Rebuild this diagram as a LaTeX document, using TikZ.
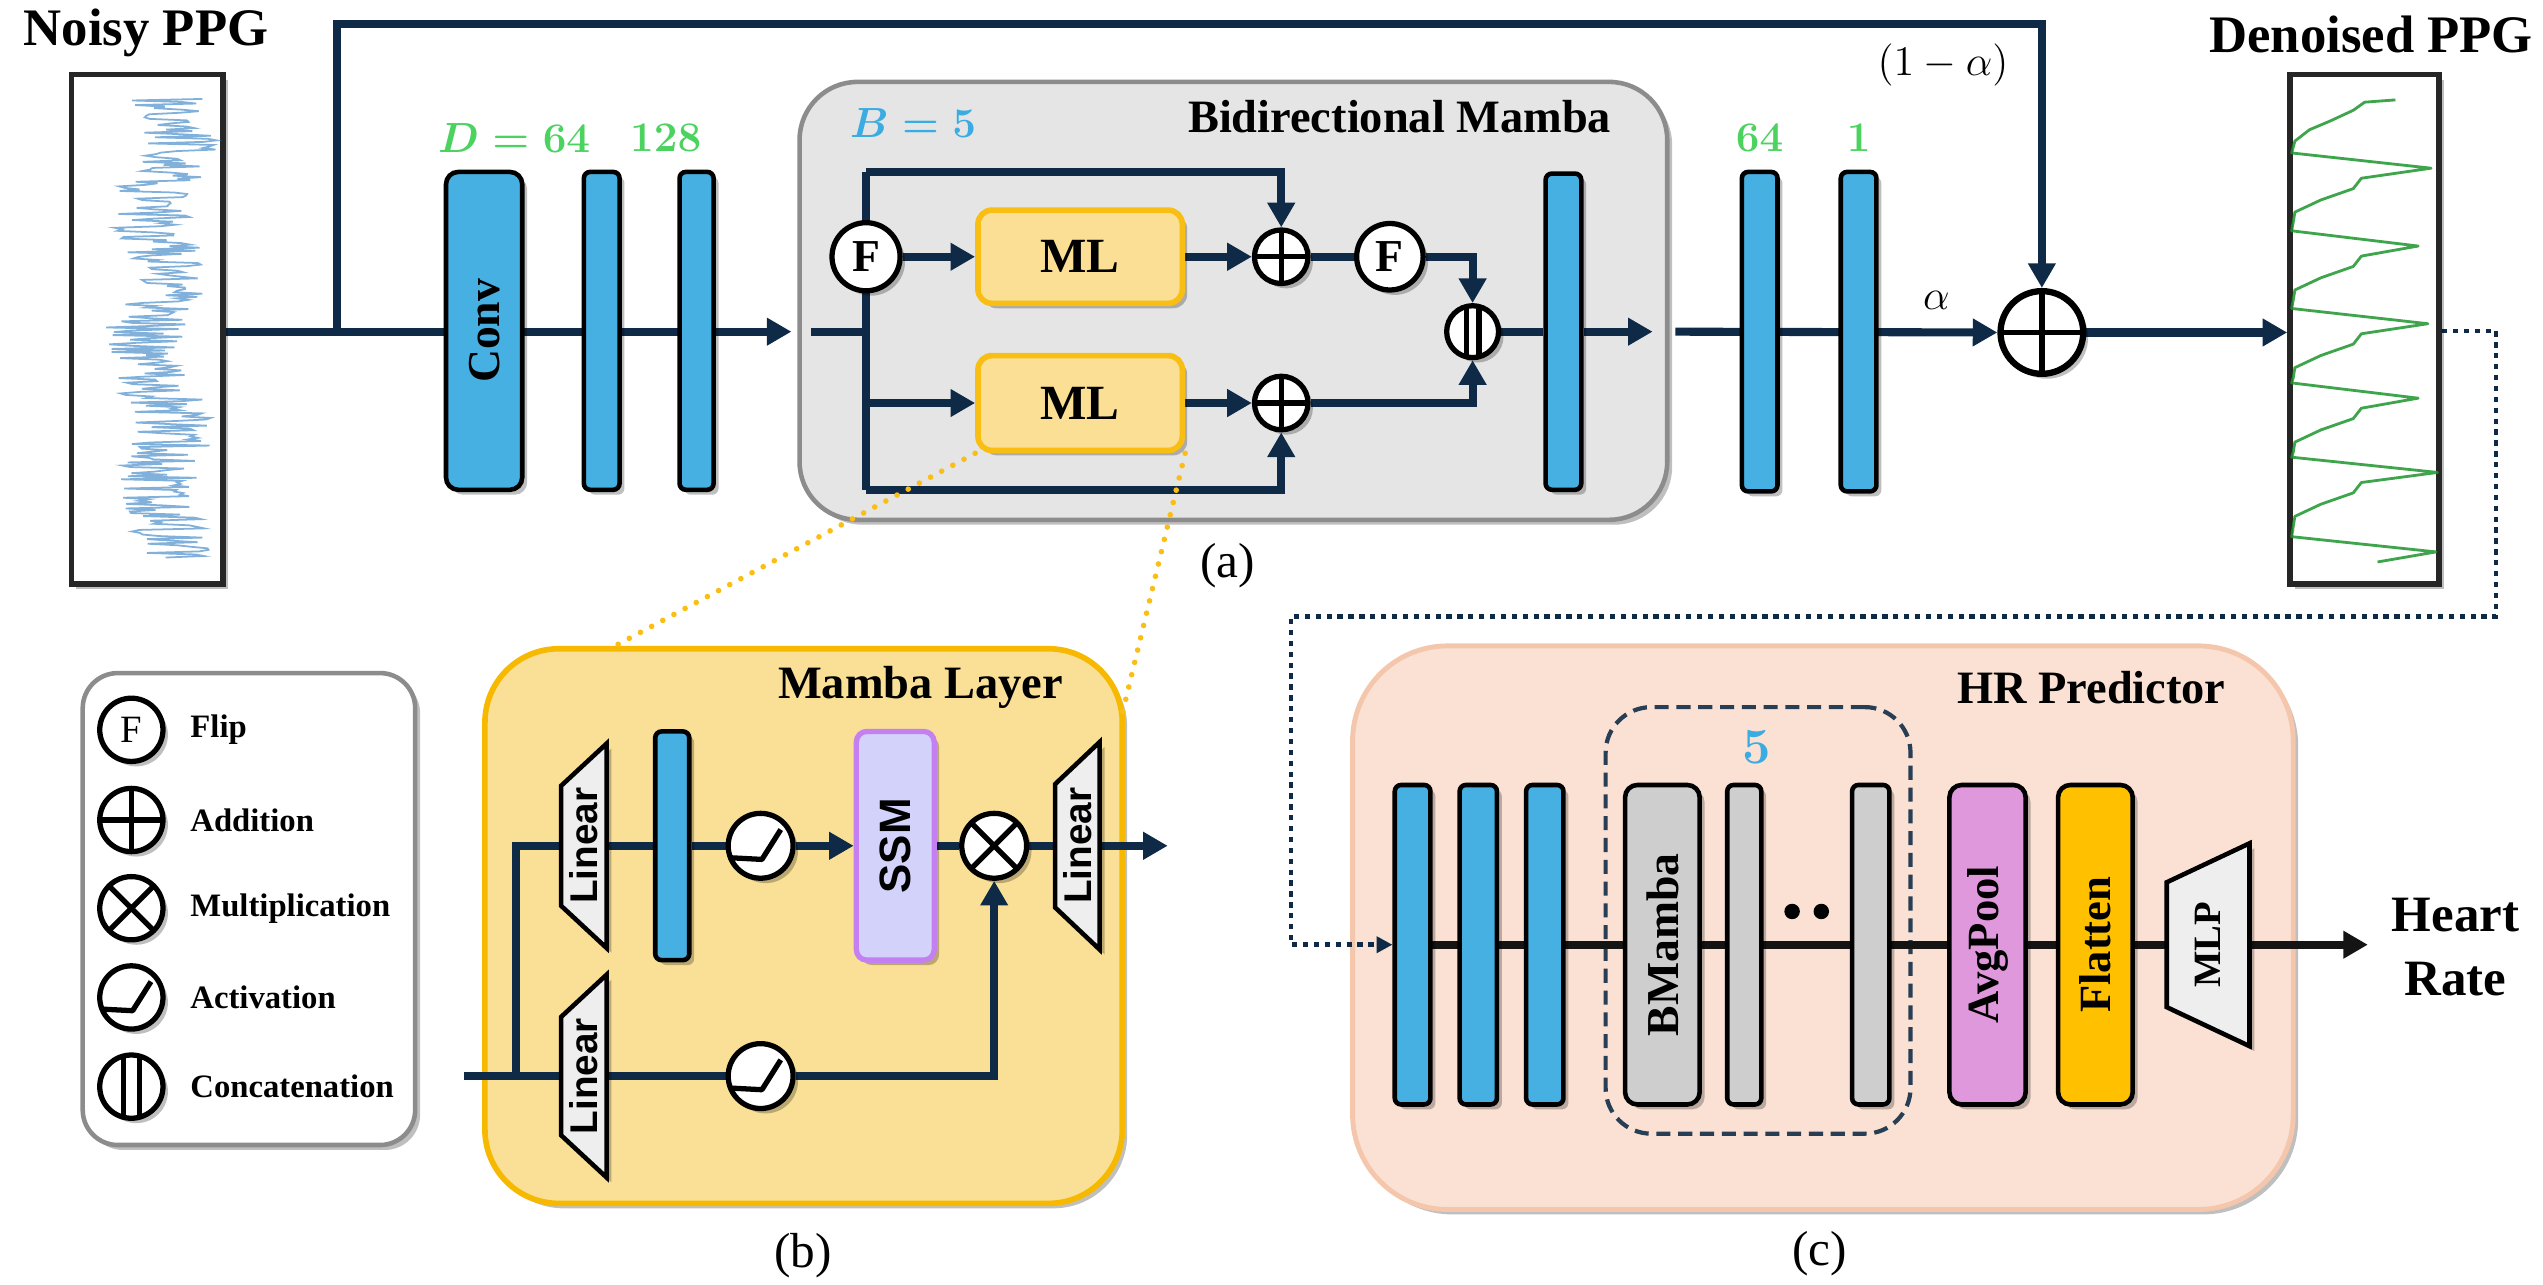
\documentclass[tikz,border=0pt]{standalone}
\usepackage{fontspec}
\setmainfont{Liberation Serif}
\setsansfont{Liberation Sans}
\usetikzlibrary{arrows.meta,calc,shadows}
\pgfdeclarelayer{back}
\pgfdeclarelayer{mid}
\pgfdeclarelayer{front}
\pgfsetlayers{back,mid,main,front}

\definecolor{navy}{RGB}{14,42,71}
\definecolor{barblue}{RGB}{69,176,225}
\definecolor{bargray}{RGB}{206,206,206}
\definecolor{bidifill}{RGB}{229,229,229}
\definecolor{bidiedge}{RGB}{140,140,140}
\definecolor{mlfill}{RGB}{250,223,148}
\definecolor{mledge}{RGB}{248,190,20}
\definecolor{layerfill}{RGB}{250,224,150}
\definecolor{layeredge}{RGB}{247,185,0}
\definecolor{ssmfill}{RGB}{210,210,250}
\definecolor{ssmedge}{RGB}{196,128,240}
\definecolor{linfill}{RGB}{238,238,238}
\definecolor{hrfill}{RGB}{250,225,211}
\definecolor{hredge}{RGB}{244,198,172}
\definecolor{avgfill}{RGB}{224,152,220}
\definecolor{flatfill}{RGB}{255,192,0}
\definecolor{dimgreen}{RGB}{75,210,95}
\definecolor{numblue}{RGB}{58,172,225}
\definecolor{noisyc}{RGB}{45,125,195}
\definecolor{cleanc}{RGB}{30,150,45}
\definecolor{dotgold}{RGB}{250,190,20}
\definecolor{legedge}{RGB}{140,140,140}
\definecolor{dashc}{RGB}{40,62,84}

\newcommand\fsz[1]{\fontsize{#1}{#1}\selectfont}
% trapezoidal layer: name, cx, cy, width, left half-height, right half-height, text, font
\newcommand\trapblk[8]{%
  \draw[trapst] ({#2-#4/2},{#3-#5}) -- ({#2+#4/2},{#3-#6}) -- ({#2+#4/2},{#3+#6}) -- ({#2-#4/2},{#3+#5}) -- cycle;
  \node[rotate=90, font=#8, inner sep=0pt] (#1) at (#2,#3) {#7};}

\tikzset{
  sz/.style 2 args={minimum width={(#1)*0.16218mm}, minimum height={(#2)*0.16218mm}},
  shad/.style={drop shadow={shadow xshift=1.4pt, shadow yshift=-1.4pt, opacity=0.25, fill=black}},
  blk/.style={draw=black, line width=1.3pt, inner sep=0pt, rounded corners=1.8pt, shad},
  bluebar/.style={blk, fill=barblue},
  graybar/.style={blk, fill=bargray},
  wire/.style={draw=navy, line width=2.3pt},
  hline/.style={draw=black!92, line width=2.2pt},
  arr/.style={-{Triangle[length=7pt,width=7.5pt]}},
  navdot/.style={draw=navy, line width=1.3pt, dash pattern=on 1.5pt off 1.6pt},
  golddot/.style={draw=dotgold, line width=1.6pt, line cap=round, dash pattern=on 0pt off 3.6pt},
  ppgbox/.style={draw=black!85, line width=1.6pt, fill=white, inner sep=0pt, shad},
  circ/.style={circle, draw=black, line width=1.5pt, fill=white, inner sep=0pt,
    minimum size={(2*#1)*0.16218mm}, shad},
  fcirc/.style={circ=#1, font=\bfseries\fsz{13}},
  plusc/.style={circ=#1, path picture={\draw[line width=1.5pt]
    (path picture bounding box.north) -- (path picture bounding box.south)
    (path picture bounding box.west) -- (path picture bounding box.east);}},
  timesc/.style={circ=#1, path picture={\draw[line width=1.5pt]
    ($(path picture bounding box.south west)!0.146!(path picture bounding box.north east)$) --
    ($(path picture bounding box.south west)!0.854!(path picture bounding box.north east)$)
    ($(path picture bounding box.north west)!0.146!(path picture bounding box.south east)$) --
    ($(path picture bounding box.north west)!0.854!(path picture bounding box.south east)$);}},
  catc/.style={circ=#1, path picture={\draw[line width=1.5pt]
    ($(path picture bounding box.north)!0.25!(path picture bounding box.north west)$) --
    ($(path picture bounding box.south)!0.25!(path picture bounding box.south west)$)
    ($(path picture bounding box.north)!0.25!(path picture bounding box.north east)$) --
    ($(path picture bounding box.south)!0.25!(path picture bounding box.south east)$);}},
  actc/.style={circ=#1, path picture={\draw[line width=1.5pt, line join=round]
    ($(path picture bounding box.center)+({-1.1*#1},{0.36*#1})$) --
    ($(path picture bounding box.center)+({0.04*#1},{0.42*#1})$) --
    ($(path picture bounding box.center)+({0.62*#1},{-0.5*#1})$);}},
  mlst/.style={draw=mledge, fill=mlfill, line width=1.6pt, rounded corners=4pt, inner sep=0pt,
    font=\bfseries\fsz{14}, shad},
  ssmst/.style={draw=ssmedge, fill=ssmfill, line width=1.5pt, rounded corners=3pt, inner sep=0pt, shad},
  trapst/.style={draw=black, line width=1.3pt, fill=linfill, shad},
  bidist/.style={fill=bidifill, draw=bidiedge, line width=1.3pt, rounded corners=16.5pt, inner sep=0pt, shad},
  legst/.style={fill=white, draw=legedge, line width=1.3pt, rounded corners=10pt, inner sep=0pt, shad},
  layerst/.style={fill=layerfill, draw=layeredge, line width=1.6pt, rounded corners=21pt, inner sep=0pt, shad},
  hrst/.style={fill=hrfill, draw=hredge, line width=1.4pt, rounded corners=27pt, inner sep=0pt, shad},
  dashst/.style={draw=dashc, line width=1.2pt, dash pattern=on 4pt off 2.2pt, rounded corners=13pt, inner sep=0pt},
  legtxt/.style={anchor=west, inner sep=0pt, font=\bfseries\fsz{9.3}},
  title/.style={font=\bfseries\fsz{13.2}},
  caption/.style={font=\fsz{14}},
  dimlab/.style={text=dimgreen, font=\fsz{13}\boldmath},
  replab/.style={text=numblue, font=\fsz{13}\boldmath},
}

\begin{document}
\begin{tikzpicture}[x=0.16218mm, y=-0.16218mm, font=\fsz{13}]
\useasboundingbox (0,0) rectangle (1568,792);

% ---------- containers ----------
\begin{pgfonlayer}{back}
  \node[bidist, sz={535}{270}] (bidi) at (760.5,185.5) {};
  \node[legst, sz={205}{291}] (legend) at (153.5,560.5) {};
  \node[layerst, sz={393}{342}] (mlayer) at (495.5,571) {};
  \node[hrst, sz={580}{347.5}] (hr) at (1124,572) {};
  \node[dashst, sz={188}{263}] (grp) at (1084,567.5) {};
\end{pgfonlayer}

% ---------- (a) denoiser ----------
\node[ppgbox, sz={93.6}{314}] (npbox) at (90.8,203) {};
\node[font=\bfseries\fsz{15}] (nptxt) at (90,20) {Noisy PPG};
\node[ppgbox, sz={92}{314}] (dpbox) at (1458,203) {};
\node[font=\bfseries\fsz{15}] (dptxt) at (1462,21) {Denoised PPG};

% noisy input trace
\pgfmathsetseed{2024}
\draw[noisyc, line width=0.5pt, draw opacity=0.6]
  plot[variable=\t, domain=0:1, samples=300]
  ({99 + 7*sin(1150*\t) + 5*sin(430*\t+60) + 25*rand}, {61+283*\t});

% denoised trace
\draw[cleanc, line width=0.8pt, line join=round, draw opacity=0.85]
  (1477,61.6) -- (1458,63) -- (1451,68) -- (1437,74.5) -- (1424,80) -- (1415,87)
  \foreach \yy/\pk in {94.3/1499, 142.3/1491, 190.2/1497, 236.1/1491, 281.9/1503}{
    -- (1413,\yy) -- (\pk,\yy+9.4) -- (1456,\yy+15.6) -- (1451,\yy+22)
    -- (1431,\yy+29) -- (1415,\yy+36.5) -- (1414,\yy+42.7) }
  -- (1413,330.9) -- (1502,340.3) -- (1466,346.5);

\node[bluebar, rounded corners=3.5pt, sz={47}{196}] (conv) at (298.5,204) {};
\node[rotate=90, font=\bfseries\fsz{13}] (convt) at (conv) {Conv};
\node[bluebar, sz={22}{196}] (b2) at (371,204) {};
\node[bluebar, sz={21}{196}] (b3) at (429.5,204) {};
\node[dimlab] (dlab) at (317,85) {$D=64$};
\node[dimlab] (d128) at (410.5,85) {$128$};

\node[title] (bidit) at (863,72) {Bidirectional Mamba};
\node[replab] (blab) at (563,76) {$B=5$};

\node[fcirc=21] (fl) at (534,158.3) {F};
\node[mlst, sz={126}{57.5}] (ml1) at (666,158.3) {ML};
\node[plusc=16.5] (ad1) at (790,158.3) {};
\node[fcirc=20.5] (fr) at (857,158.3) {F};
\node[catc=16] (cat) at (908,204.5) {};
\node[plusc=16.5] (ad2) at (790,248.5) {};
\node[mlst, sz={126}{58.5}] (ml2) at (666,248.5) {ML};
\node[bluebar, sz={22}{195}] (bb) at (964,204.5) {};

\node[bluebar, sz={22}{197}] (b64) at (1085,204.5) {};
\node[bluebar, sz={22}{197}] (b1) at (1146,204.5) {};
\node[dimlab] (d64) at (1085,85) {$64$};
\node[dimlab] (d1l) at (1146,85) {$1$};
\node (alab) at (1194,185) {$\alpha$};
\node (oma) at (1198,40) {$(1-\alpha)$};
\node[plusc=25.5, line width=1.8pt] (addbig) at (1259,205) {};

\node[caption] (capa) at (757,349) {(a)};

\coordinate (split) at (208,204.5);
\coordinate (skiptop) at (208,15);
\coordinate (bin) at (488,204.5);
\coordinate (bin2) at (500,204.5);
\coordinate (vmid) at (534,204.5);
\coordinate (vtop) at (534,106);
\coordinate (vbot) at (534,302);
\coordinate (bout) at (1019,204.5);
\coordinate (bout2) at (1033,204.5);

\begin{pgfonlayer}{mid}
  \draw[wire, arr] (npbox.east |- bin) -- (bin);
  \draw[wire, arr] (split) -- (skiptop) -| (addbig.north);
  \draw[wire] (bin2) -- (vmid);
  \draw[wire] (vtop) -- (vbot);
  \draw[wire, arr] (vtop) -| (ad1.north);
  \draw[wire, arr] (fl) -- (ml1);
  \draw[wire, arr] (ml1) -- (ad1);
  \draw[wire] (ad1) -- (fr);
  \draw[wire, arr] (fr.east) -| (cat.north);
  \draw[wire, arr] (vmid |- ml2) -- (ml2);
  \draw[wire, arr] (ml2) -- (ad2);
  \draw[wire, arr] (vbot) -| (ad2.south);
  \draw[wire, arr] (ad2.east) -| (cat.south);
  \draw[wire] (cat) -- (bb);
  \draw[wire, arr] (bb) -- (bout);
  \draw[wire, arr] (bout2) -- (addbig.west);
  \draw[wire, arr] (addbig) -- (dpbox.west |- addbig);
\end{pgfonlayer}

% ---------- legend ----------
\node[circ=19.5, font=\fsz{11}] (lg1) at (81,450) {F};
\node[plusc=19.5] (lg2) at (81,505.6) {};
\node[timesc=19.5] (lg3) at (81,560) {};
\node[actc=19.5] (lg4) at (81,615) {};
\node[catc=19.5] (lg5) at (81,670) {};
\node[legtxt] (lg1t) at (117,450) {Flip};
\node[legtxt] (lg2t) at (117,505.6) {Addition};
\node[legtxt] (lg3t) at (117,560) {Multiplication};
\node[legtxt] (lg4t) at (117,615) {Activation};
\node[legtxt] (lg5t) at (117,670) {Concatenation};

% ---------- (b) Mamba layer ----------
\node[title] (mlt) at (567.5,424) {Mamba Layer};
\trapblk{lin1}{360}{521.5}{28}{37}{63}{Linear}{\sffamily\bfseries\fsz{11}}
\trapblk{lin2}{360}{663.5}{28}{36.5}{62.5}{Linear}{\sffamily\bfseries\fsz{11}}
\trapblk{linr}{664.3}{521.5}{27.5}{38}{64}{Linear}{\sffamily\bfseries\fsz{11}}
\node[bluebar, sz={21}{141}] (bm) at (414.5,521.5) {};
\node[actc=20] (act1) at (469,521.5) {};
\node[ssmst, sz={48}{141}] (ssm) at (552,521.5) {};
\node[rotate=90, font=\sffamily\bfseries\fsz{12.5}] (ssmt) at (ssm) {SSM};
\node[timesc=20] (mul) at (613,521.5) {};
\node[actc=20] (act2) at (469,663.5) {};
\node[caption] (capb) at (495,774) {(b)};

\coordinate (min) at (286,663.5);
\coordinate (mv) at (318,663.5);
\coordinate (mvt) at (318,521.5);
\coordinate (mout) at (720,521.5);

\begin{pgfonlayer}{mid}
  \draw[wire] (min) -- (act2);
  \draw[wire, arr] (act2) -| (mul.south);
  \draw[wire] (mv) -- (mvt) -- (bm);
  \draw[wire] (bm) -- (act1);
  \draw[wire, arr] (act1) -- (ssm);
  \draw[wire] (ssm) -- (mul);
  \draw[wire, arr] (mul) -- (mout);
\end{pgfonlayer}

% ---------- (c) HR predictor ----------
\node[title] (hrt) at (1289.5,424) {HR Predictor};
\node[replab, font=\fsz{15}\boldmath] (rep) at (1083,461) {$5$};
\node[bluebar, sz={22}{197}] (hb1) at (871,582.5) {};
\node[bluebar, sz={23}{197}] (hb2) at (911.5,582.5) {};
\node[bluebar, sz={23}{197}] (hb3) at (952.5,582.5) {};
\node[graybar, rounded corners=3.5pt, sz={46}{197}] (bmb) at (1025,582.5) {};
\node[rotate=90, font=\bfseries\fsz{13}] (bmbt) at (bmb) {BMamba};
\node[graybar, sz={21}{197}] (g2) at (1075.5,582.5) {};
\node[graybar, sz={23}{197}] (g3) at (1153.5,582.5) {};
\node[circle, fill=black, inner sep=0pt, minimum size=4.4pt] (dot1) at (1105,562) {};
\node[circle, fill=black, inner sep=0pt, minimum size=4.4pt] (dot2) at (1123,562) {};
\node[blk, fill=avgfill, rounded corners=3.5pt, sz={47}{197}] (avg) at (1225.5,582.5) {};
\node[rotate=90, font=\bfseries\fsz{12.7}] (avgt) at (avg) {AvgPool};
\node[blk, fill=flatfill, rounded corners=3.5pt, sz={46}{197}] (flat) at (1292,582.5) {};
\node[rotate=90, font=\bfseries\fsz{12.7}] (flatt) at (flat) {Flatten};
\trapblk{mlp}{1361.5}{582.5}{51}{38.5}{62.5}{MLP}{\bfseries\fsz{11}}
\node[font=\bfseries\fontsize{14.5}{18.4}\selectfont, align=center] (hrate) at (1514,584) {Heart\\Rate};
\node[caption] (capc) at (1122,773) {(c)};

\coordinate (hrout) at (1460,582.5);
\coordinate (d1) at (1539,204);
\coordinate (d2) at (1539,380);
\coordinate (d3) at (796,380);
\coordinate (d4) at (796,582.5);

\begin{pgfonlayer}{mid}
  \draw[hline, arr] (hb1.center) -- (hrout);
  \draw[navdot, -{Triangle[length=4.5pt,width=4.5pt]}]
    (dpbox.east |- d1) -- (d1) -- (d2) -- (d3) -- (d4) -- (hb1.west |- d4);
\end{pgfonlayer}

% ---------- zoom guides ----------
\coordinate (zl) at (376,400);
\coordinate (zr) at (692,440);
\begin{pgfonlayer}{front}
  \draw[golddot] (ml2.south west) -- (zl);
  \draw[golddot] (ml2.south east) -- (zr);
\end{pgfonlayer}
\end{tikzpicture}
\end{document}
